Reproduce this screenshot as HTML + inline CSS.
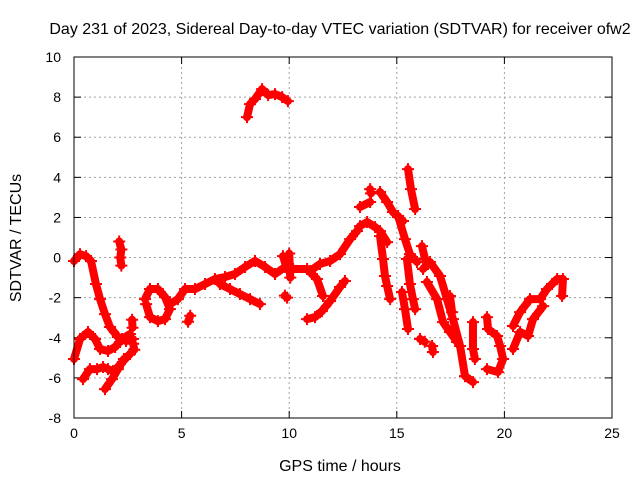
<!DOCTYPE html>
<html><head><meta charset="utf-8"><style>
body{margin:0;background:#fff}
svg text{font-family:"Liberation Sans",sans-serif;font-size:14px;fill:#000}
</style></head><body>
<svg id="chart" width="640" height="480" xmlns="http://www.w3.org/2000/svg">
<text x="340" y="34" text-anchor="middle" style="font-size:16px">Day 231 of 2023, Sidereal Day-to-day VTEC variation (SDTVAR) for receiver ofw2</text>
<text x="340" y="471" text-anchor="middle" style="font-size:16px">GPS time / hours</text>
<text transform="translate(21,238) rotate(-90)" text-anchor="middle" style="font-size:16px">SDTVAR / TECUs</text>
<g id="grid"></g>
<g id="marks"></g>
<rect x="74" y="57" width="538" height="361" fill="none" stroke="#000" stroke-width="1"/>
</svg>
<script>
const xTicks=[0,5,10,15,20,25];
const yTicks=[-8,-6,-4,-2,0,2,4,6,8,10];
const tracks=[
[[0,-.17],[.28,.17],[.56,.07],[.79,-.17],[1.02,-1.32],[1.21,-2.07],[1.44,-2.82],[1.67,-3.46],[2.04,-3.96],[2.42,-4.16],[2.74,-4.06]],
[[0,-5.06],[.28,-4.06],[.65,-3.71],[.98,-4.06],[1.21,-4.56],[1.58,-4.66],[1.91,-4.46],[2.23,-4.06],[2.6,-3.81]],
[[.42,-6.06],[.74,-5.56],[1.07,-5.56],[1.35,-5.46],[1.58,-5.56],[1.81,-5.66],[2.04,-5.46],[2.37,-5.06],[2.6,-4.81]],
[[1.44,-6.56],[1.77,-6.06],[2.04,-5.56],[2.32,-5.06]],
[[2.1,.8],[2.2,.4],[2.15,0],[2.2,-.4]],
[[2.7,-3.1],[2.72,-3.5]],[[2.75,-4.3],[2.8,-4.6]],
[[3.3,-2.07],[3.53,-1.57],[3.9,-1.57],[4.23,-1.97],[4.46,-2.57],[4.23,-3.07],[3.9,-3.17],[3.53,-2.97],[3.35,-2.32]],
[[4.46,-2.32],[4.83,-2.07],[5.16,-1.57],[5.62,-1.57],[6.09,-1.32],[6.55,-1.07],[7.02,-.97],[7.48,-.82],[7.95,-.47],[8.41,-.17],[8.88,-.47],[9.34,-.82],[9.81,-.47]],
[[6.78,-1.32],[7.25,-1.57],[7.71,-1.82],[8.18,-2.07],[8.64,-2.32]],
[[5.4,-2.9],[5.3,-3.2]],
[[10,.2],[10.05,-1]],[[9.8,-1.9],[9.9,-2]],
[[8.04,7.0],[8.18,7.65],[8.41,7.9],[8.74,8.4],[9.02,8.1],[9.34,8.15],[9.67,8.0],[9.94,7.8]],
[[9.71,.07],[9.9,-.57],[10.18,-.57],[10.83,-.57],[11.29,-1.07],[11.57,-1.92]],
[[10.97,-.67],[11.43,-.32],[11.9,-.17],[12.36,.17],[12.83,.92],[13.15,1.32],[13.29,1.57],[13.62,1.77],[13.99,1.52],[14.22,1.32],[14.55,.77]],
[[10.83,-3.07],[11.2,-2.97],[11.52,-2.67],[11.9,-2.17],[12.36,-1.47],[12.59,-1.17]],
[[13.76,3.41],[13.8,3.2]],[[13.29,2.52],[13.76,2.77]],
[[14.22,3.27],[14.55,2.77],[14.82,2.27],[15.29,1.82]],
[[14.22,1.07],[14.36,-.07],[14.45,-.92],[14.55,-1.42],[14.69,-2.07]],
[[15.06,2.07],[15.38,.92],[15.61,.17],[15.94,-.22]],
[[15.47,-.07],[15.61,-1.32],[15.75,-2.07],[15.85,-2.57]],
[[15.24,-1.72],[15.38,-2.57],[15.52,-3.56]],
[[15.52,4.41],[15.66,3.41],[15.85,2.42]],
[[16.17,.57],[16.31,-.07]],
[[16.22,-.57],[16.54,-.22],[17.01,-.92],[17.33,-2.07],[17.61,-3.07],[17.94,-4.41],[18.17,-5.91],[18.54,-6.21]],
[[16.4,-1.22],[16.87,-2.07],[17.15,-3.22],[17.47,-3.71],[17.8,-4.21]],
[[16.08,-4.06],[16.3,-4.2]],[[16.64,-4.41],[16.68,-4.71]],
[[17.47,-1.92],[17.57,-2.72]],
[[18.54,-3.22],[18.54,-4.56],[18.63,-5.06]],
[[19.19,-2.97],[19.24,-3.56],[19.66,-3.91],[19.8,-4.41],[19.94,-5.06],[19.7,-5.71],[19.19,-5.56]],
[[20.4,-3.41],[20.73,-2.72],[21.19,-2.07],[21.66,-2.07],[21.98,-1.57],[22.45,-1.07],[22.72,-1.07],[22.68,-1.92]],
[[20.4,-4.56],[20.73,-3.71],[21.1,-3.91],[21.33,-3.07],[21.8,-2.42]]
];
const NS='http://www.w3.org/2000/svg';
const X0=74,X1=612,Y0=418,Y1=57;
function xs(h){return X0+(h-0)/25*(X1-X0);}
function ys(v){return Y0-(v+8)/18*(Y0-Y1);}
function mk(tag,attrs,parent){const e=document.createElementNS(NS,tag);for(const k in attrs)e.setAttribute(k,attrs[k]);parent.appendChild(e);return e;}
const grid=document.getElementById('grid');
xTicks.forEach(t=>{
 const x=xs(t);
 if(t>0&&t<25){const l=mk('line',{x1:x,x2:x,y1:Y1,y2:Y0,stroke:'#a0a0a0','stroke-dasharray':'2,3'},grid);
 
 }
 mk('line',{x1:x,x2:x,y1:Y0,y2:Y0-7,stroke:'#000'},grid);
 mk('line',{x1:x,x2:x,y1:Y1,y2:Y1+7,stroke:'#000'},grid);
 const tx=mk('text',{x:x,y:Y0+20,'text-anchor':'middle'},grid);tx.textContent=t;
 
 
});
yTicks.forEach(t=>{
 const y=ys(t);
 if(t>-8&&t<10){const l=mk('line',{x1:X0,x2:X1,y1:y,y2:y,stroke:'#a0a0a0','stroke-dasharray':'2,3'},grid);
 
 }
 mk('line',{x1:X0,x2:X0+7,y1:y,y2:y,stroke:'#000'},grid);
 mk('line',{x1:X1,x2:X1-7,y1:y,y2:y,stroke:'#000'},grid);
 const tx=mk('text',{x:X0-13,y:y+5,'text-anchor':'end'},grid);tx.textContent=t;
 
 
});
const marks=document.getElementById('marks');
tracks.forEach(tr=>{
 const p=mk('polyline',{points:tr.map(d=>xs(d[0])+','+ys(d[1])).join(' '),fill:'none',stroke:'#ff0000','stroke-width':8,'stroke-linejoin':'round','stroke-linecap':'round'},marks);
 
 
 tr.forEach(d=>{
  const x=xs(d[0]),y=ys(d[1]);
  const g=mk('path',{d:`M${x-6},${y}H${x+6}M${x},${y-6}V${y+6}`,stroke:'#ff0000','stroke-width':2},marks);
  
  
 });
});
</script>
</body></html>
